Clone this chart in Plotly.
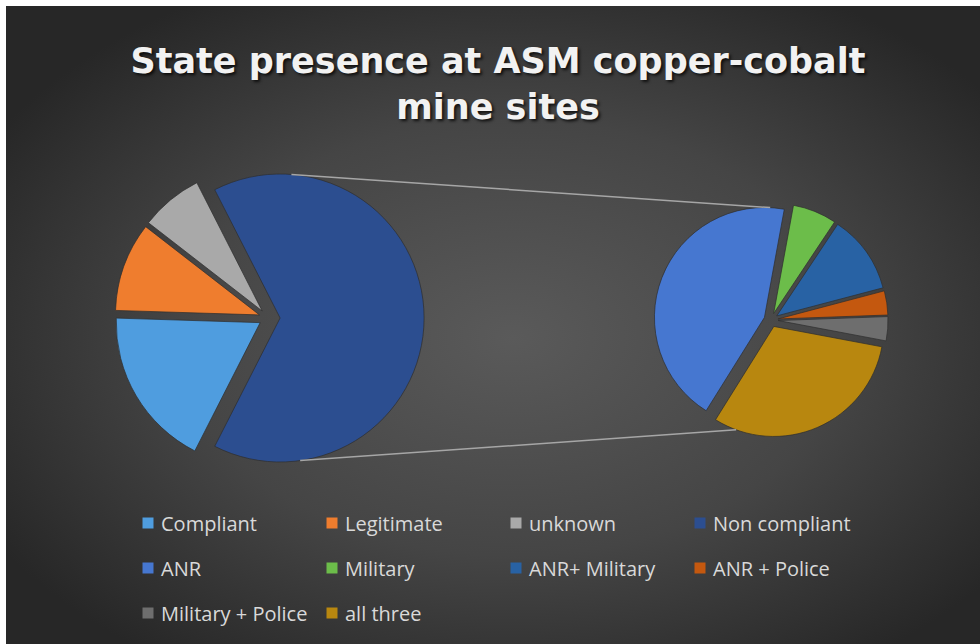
import base64
import math
import plotly.graph_objects as go

# ---------------- data ----------------
main_labels = ["Compliant", "Legitimate", "unknown", "Non compliant"]
main_values = [18, 10, 7]                       # Non compliant = sum of breakdown
detail_labels = ["ANR", "Military", "ANR+ Military", "ANR + Police",
                 "Military + Police", "all three"]
detail_values = [28.6, 4.2, 7.5, 2.3, 2.3, 20.1]
title_text = "State presence at ASM copper-cobalt<br>mine sites"

# ---------------- styles ----------------
main_colors = ["#4f9ddf", "#ef7d2e", "#a9a9a9", "#2c4e90"]
detail_colors = ["#4677d0", "#6cbd4a", "#2862a4", "#c4580f", "#6e6e6e", "#b8870f"]

W, H = 980, 644
ML, MR, MT, MB = 90, 90, 0, 0
PW, PH = W - ML - MR, H - MT - MB


def fx(px):
    return (px - ML) / PW


def fy(py):
    return 1 - (py - MT) / PH


# pie geometry (pixels)
L_CX, L_CY, L_R = 268, 318, 144
L_PULL_SMALL, L_PULL_BIG = 0.063, 0.084
R_CX, R_CY, R_R = 771, 320, 110
R_PULL = 0.064

l_half = L_R * (1 + L_PULL_BIG)
r_half = R_R * (1 + R_PULL)

all_main_values = main_values + [sum(detail_values)]
L_ROT = 207
R_ROT = 212

fig = go.Figure()
fig.add_trace(go.Pie(
    labels=main_labels, values=all_main_values, sort=False,
    direction="clockwise", rotation=L_ROT,
    pull=[L_PULL_SMALL] * 3 + [L_PULL_BIG],
    marker=dict(colors=main_colors, line=dict(color="rgba(45,45,45,0.7)", width=1)),
    textinfo="none", hoverinfo="label+value", showlegend=False,
    domain=dict(x=[fx(L_CX - l_half), fx(L_CX + l_half)],
                y=[fy(L_CY + l_half), fy(L_CY - l_half)]),
))
fig.add_trace(go.Pie(
    labels=detail_labels, values=detail_values, sort=False,
    direction="clockwise", rotation=R_ROT - 360,
    pull=[R_PULL] * len(detail_values),
    marker=dict(colors=detail_colors, line=dict(color="rgba(45,45,45,0.7)", width=1)),
    textinfo="none", hoverinfo="label+value", showlegend=False,
    domain=dict(x=[fx(R_CX - r_half), fx(R_CX + r_half)],
                y=[fy(R_CY + r_half), fy(R_CY - r_half)]),
))


# ---------------- connector (series) lines ----------------
def slice_point(cx, cy, r, pull, total, vals, idx, rot, ang):
    start = rot + 360 * sum(vals[:idx]) / total
    mid = start + 180 * vals[idx] / total
    ox = pull * r * math.sin(math.radians(mid))
    oy = -pull * r * math.cos(math.radians(mid))
    return (cx + ox + r * math.sin(math.radians(ang)),
            cy + oy - r * math.cos(math.radians(ang)))


tot_l = sum(all_main_values)
tot_r = sum(detail_values)
l_top = slice_point(L_CX, L_CY, L_R, L_PULL_BIG, tot_l, all_main_values, 3, L_ROT, 4.5)
l_bot = slice_point(L_CX, L_CY, L_R, L_PULL_BIG, tot_l, all_main_values, 3, L_ROT, 172)
r_top = slice_point(R_CX, R_CY, R_R, R_PULL, tot_r, detail_values, 0, R_ROT, 3)
r_bot = slice_point(R_CX, R_CY, R_R, R_PULL, tot_r, detail_values, 5, R_ROT, 200)

shapes = []
for a, b in [(l_top, r_top), (l_bot, r_bot)]:
    shapes.append(dict(type="line", xref="paper", yref="paper",
                       x0=fx(a[0]), y0=fy(a[1]), x1=fx(b[0]), y1=fy(b[1]),
                       line=dict(color="#a6a6a6", width=1.5), layer="above"))

# ---------------- legend (4 columns) ----------------
leg_labels = main_labels + detail_labels
leg_colors = main_colors + detail_colors
LEG_X0, LEG_DX, LEG_Y0, LEG_DY, SQ = 161, 184, 523, 45, 11
annotations = []
for i, (lab, col) in enumerate(zip(leg_labels, leg_colors)):
    r_, c_ = divmod(i, 4)
    tx = LEG_X0 + c_ * LEG_DX
    ty = LEG_Y0 + r_ * LEG_DY
    shapes.append(dict(type="rect", xref="paper", yref="paper",
                       x0=fx(tx - 13 - SQ / 2), x1=fx(tx - 13 + SQ / 2),
                       y0=fy(ty + SQ / 2), y1=fy(ty - SQ / 2),
                       fillcolor=col, line=dict(width=0)))
    annotations.append(dict(text=lab, xref="paper", yref="paper",
                            x=fx(tx - 2), y=fy(ty), xanchor="left", yanchor="middle",
                            showarrow=False,
                            font=dict(family="Open Sans", size=20, color="#d9d9d9")))

# ---------------- background gradient ----------------
BX, BY = 6, 6
svg = (f"<svg xmlns='http://www.w3.org/2000/svg' width='{W-BX}' height='{H-BY}'>"
       "<defs><radialGradient id='g' cx='52%' cy='52%' r='62%'>"
       "<stop offset='0' stop-color='#5a5a5a'/>"
       "<stop offset='0.55' stop-color='#454545'/>"
       "<stop offset='1' stop-color='#272727'/></radialGradient></defs>"
       "<rect width='100%' height='100%' fill='url(#g)'/></svg>")
src = "data:image/svg+xml;base64," + base64.b64encode(svg.encode()).decode()

fig.update_layout(
    width=W, height=H,
    margin=dict(l=ML, r=MR, t=MT, b=MB),
    paper_bgcolor="white", plot_bgcolor="rgba(0,0,0,0)",
    showlegend=False,
    title=dict(text=title_text, x=498 / W, xanchor="center", xref="container",
               y=1 - 73 / H, yanchor="middle", yref="container",
               font=dict(family="DejaVu Sans", size=35, color="#f2f2f2",
                         weight="bold", shadow="2px 2px 3px rgba(0,0,0,0.75)")),
    images=[dict(source=src, xref="paper", yref="paper",
                 x=fx(BX), y=fy(BY), sizex=(W - BX) / PW, sizey=(H - BY) / PH,
                 xanchor="left", yanchor="top", sizing="stretch", layer="below")],
    shapes=shapes,
    annotations=annotations,
)

fig.write_html("out.html",
               config={"displayModeBar": False},
               post_script="document.body.style.margin='0';"
                           "document.body.style.overflow='hidden';")
